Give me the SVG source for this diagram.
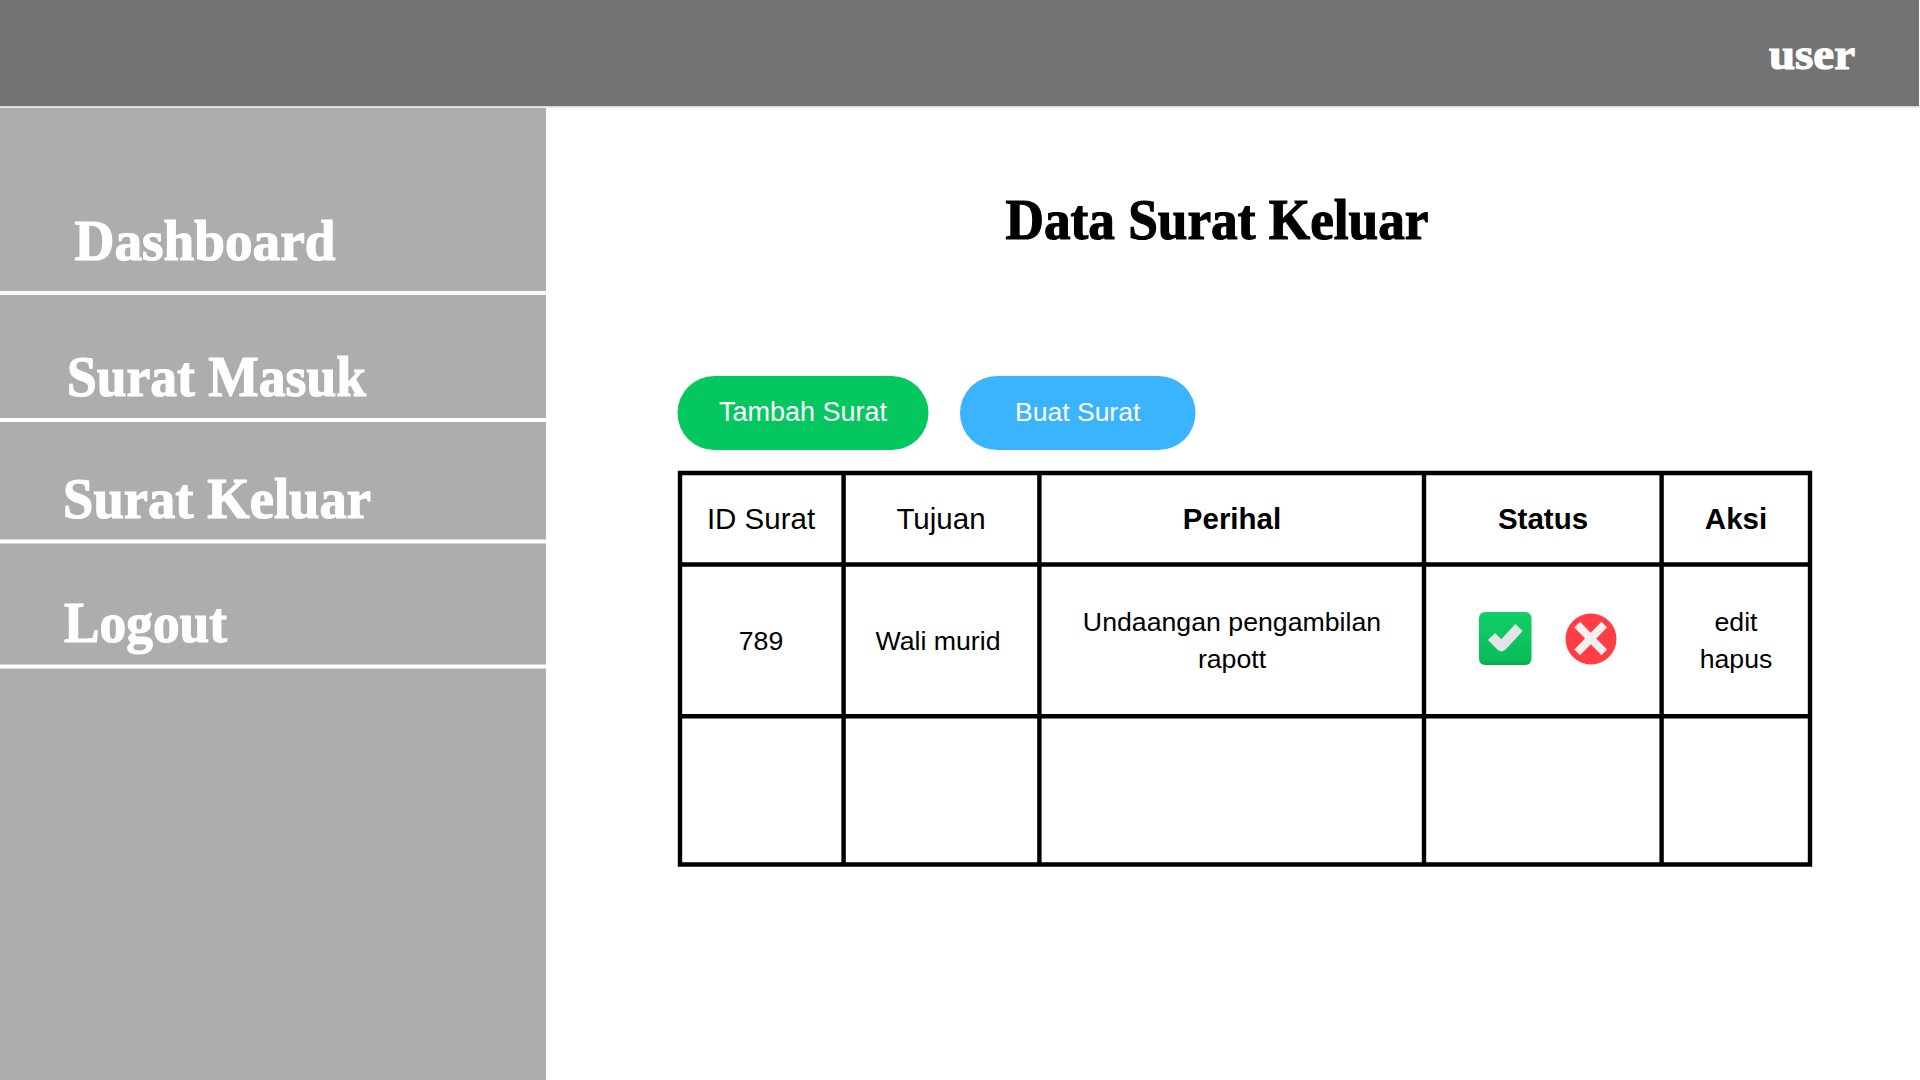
<svg xmlns="http://www.w3.org/2000/svg" width="1920" height="1080" viewBox="0 0 1920 1080">
<style>
.nav{font-family:"Liberation Serif",serif;font-weight:700;fill:#fff;stroke:#fff;stroke-width:1.2;font-size:57px}
.cell{font-family:"Liberation Sans",Arial,sans-serif;font-size:26.7px;fill:#000;text-anchor:middle}
.head{font-size:29.500px}
.b{font-weight:700}
.btn{font-family:"Liberation Sans",Arial,sans-serif;font-size:27px;fill:#fff;text-anchor:middle}
.grid{fill:none;stroke:#000;stroke-width:4.400}
</style>
<defs>
<linearGradient id="ok" x1="0" y1="0" x2="0" y2="1"><stop offset="0" stop-color="#10cf68"/><stop offset=".9" stop-color="#0bbd58"/><stop offset="1" stop-color="#08a84c"/></linearGradient>
</defs>
<rect width="1920" height="1080" fill="#fff"/>
<g id="header">
<rect width="1919" height="106" fill="#737373"/>
<rect y="106" width="1920" height="1.5" fill="#d8d8d8"/>
<text x="1769" y="68.500" class="nav" style="font-size:44px" textLength="86" lengthAdjust="spacingAndGlyphs">user</text>
</g>
<g id="sidebar">
<rect y="108" width="546" height="972" fill="#aeacac"/>
<rect y="291" width="546" height="4" fill="#fff"/>
<rect y="418" width="546" height="4" fill="#fff"/>
<rect y="539.500" width="546" height="4" fill="#fff"/>
<rect y="664.500" width="546" height="4" fill="#fff"/>
</g>
<g id="nav-dashboard"><text x="74.500" y="260" class="nav" textLength="261" lengthAdjust="spacingAndGlyphs">Dashboard</text></g>
<g id="nav-surat-masuk"><text x="67" y="396" class="nav" textLength="299" lengthAdjust="spacingAndGlyphs">Surat Masuk</text></g>
<g id="nav-surat-keluar"><text x="63" y="518" class="nav" textLength="308" lengthAdjust="spacingAndGlyphs">Surat Keluar</text></g>
<g id="nav-logout"><text x="64" y="642" class="nav" textLength="163" lengthAdjust="spacingAndGlyphs">Logout</text></g>
<g id="title"><text x="1005.500" y="238.500" class="nav" style="fill:#000;stroke:#000;font-size:57px" textLength="423" lengthAdjust="spacingAndGlyphs">Data Surat Keluar</text></g>
<g id="btn-tambah"><rect x="677.500" y="376" width="251" height="74" rx="37" fill="#05c75f"/><text x="803" y="421" class="btn">Tambah Surat</text></g>
<g id="btn-buat"><rect x="960" y="376" width="235.500" height="74" rx="37" fill="#3ab4ff"/><text x="1077.700" y="421" class="btn" style="font-size:26.500px">Buat Surat</text></g>
<g id="table">
<path class="grid" d="M680 473H1810V864.500H680ZM680 564.500H1810M680 716.300H1810M843.600 473V864.500M1039.400 473V864.500M1424 473V864.500M1661.600 473V864.500"/>
<text x="761" y="529" class="cell head">ID Surat</text>
<text x="941" y="529" class="cell head">Tujuan</text>
<text x="1232" y="529" class="cell head b">Perihal</text>
<text x="1543" y="529" class="cell head b">Status</text>
<text x="1736" y="529" class="cell head b">Aksi</text>
<text x="761" y="650" class="cell">789</text>
<text x="938" y="650" class="cell">Wali murid</text>
<text x="1232" y="631" class="cell">Undaangan pengambilan</text>
<text x="1232" y="668" class="cell">rapott</text>
<text x="1736" y="631" class="cell">edit</text>
<text x="1736" y="668" class="cell">hapus</text>
</g>
<g id="icon-check">
<rect x="1479" y="612" width="52.500" height="53" rx="6" fill="url(#ok)"/>
<path d="M1491.500 636.500L1501.500 646.500L1519 627.500" fill="none" stroke="#e4e4e4" stroke-width="10" stroke-linecap="butt" stroke-linejoin="round"/>
</g>
<g id="icon-cross">
<circle cx="1591" cy="639" r="25.500" fill="#ff3d43"/>
<path d="M1580 627.500L1601.500 649.500M1601.500 627.500L1580 649.500" fill="none" stroke="#f6f0f0" stroke-width="8" stroke-linecap="square"/>
</g>
</svg>
